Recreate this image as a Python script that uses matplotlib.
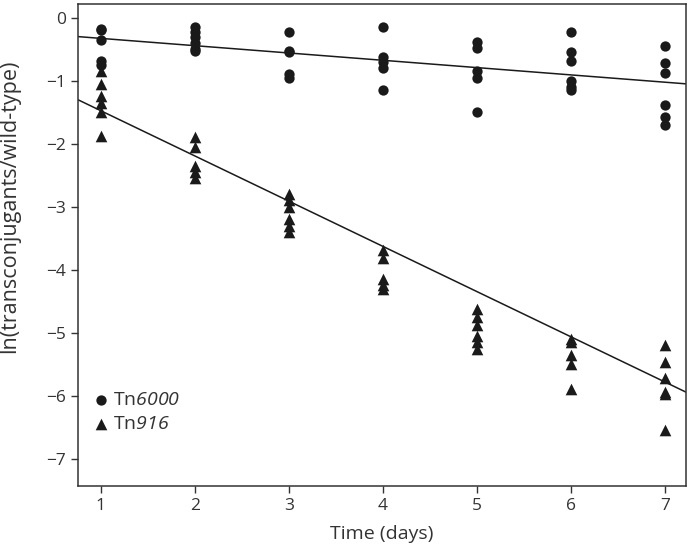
import numpy as np
import matplotlib.pyplot as plt

plt.rcParams['font.family'] = ['Open Sans', 'DejaVu Sans']
plt.rcParams['mathtext.fontset'] = 'custom'
plt.rcParams['mathtext.rm'] = 'Open Sans'
# digits under \mathit come out upright, so use the sf slot for the italic face
plt.rcParams['mathtext.sf'] = 'Open Sans:italic'

# values
days = [1, 2, 3, 4, 5, 6, 7]
tn6000 = [
    [-0.18, -0.2, -0.35, -0.68, -0.75],
    [-0.15, -0.22, -0.3, -0.4, -0.5, -0.53],
    [-0.23, -0.53, -0.55, -0.9, -0.95],
    [-0.15, -0.63, -0.7, -0.8, -1.15],
    [-0.38, -0.48, -0.85, -0.95, -1.5],
    [-0.23, -0.55, -0.68, -1.0, -1.1, -1.15],
    [-0.45, -0.72, -0.88, -1.38, -1.58, -1.7],
]
tn916 = [
    [-0.85, -1.05, -1.25, -1.35, -1.5, -1.87],
    [-1.9, -2.05, -2.35, -2.45, -2.55],
    [-2.8, -2.9, -3.0, -3.2, -3.3, -3.4],
    [-3.68, -3.82, -4.15, -4.25, -4.3],
    [-4.62, -4.75, -4.87, -5.05, -5.15, -5.25],
    [-5.1, -5.15, -5.35, -5.5, -5.9],
    [-5.19, -5.46, -5.72, -5.94, -5.97, -6.55],
]
# regression lines (intercept, slope)
fit6000 = (-0.212, -0.116)
fit916 = (-0.758, -0.718)

fig, ax = plt.subplots(figsize=(6.88, 5.49), dpi=100)

x6 = np.concatenate([[d] * len(v) for d, v in zip(days, tn6000)])
y6 = np.concatenate(tn6000)
x9 = np.concatenate([[d] * len(v) for d, v in zip(days, tn916)])
y9 = np.concatenate(tn916)

ax.scatter(x6, y6, marker='o', s=55, color='#1a1a1a', linewidths=0, label='Tn$\\mathsf{6000}$')
ax.scatter(x9, y9, marker='^', s=70, color='#1a1a1a', linewidths=0, label='Tn$\\mathsf{916}$')

xl = np.array([0.755, 7.22])
ax.plot(xl, fit6000[0] + fit6000[1] * xl, color='#1a1a1a', lw=1.1)
ax.plot(xl, fit916[0] + fit916[1] * xl, color='#1a1a1a', lw=1.1)

ax.set_xlim(0.755, 7.22)
ax.set_ylim(-7.43, 0.22)
ax.set_xticks(days)
ax.set_yticks(range(0, -8, -1))
ax.set_yticklabels(['0', '\u22121', '\u22122', '\u22123', '\u22124', '\u22125', '\u22126', '\u22127'])
ax.tick_params(labelsize=12.5, length=5, width=1, colors='#333333', labelcolor='#333333')
ax.set_xlabel('Time (days)', fontsize=14, color='#333333', labelpad=8)
ax.set_ylabel('ln(transconjugants/wild-type)', fontsize=15.5, color='#333333')
ax.yaxis.set_label_coords(-0.094, 0.58)
for s in ax.spines.values():
    s.set_linewidth(1.1)
    s.set_color('#333333')

ax.legend(loc='lower left', frameon=False, fontsize=14, handletextpad=0.0,
          borderaxespad=0.2, labelspacing=0.3, handlelength=1.2,
          bbox_to_anchor=(0.0, 0.085), labelcolor='#333333')

plt.subplots_adjust(left=0.113, right=0.997, top=0.993, bottom=0.115)
plt.savefig('out.png')
